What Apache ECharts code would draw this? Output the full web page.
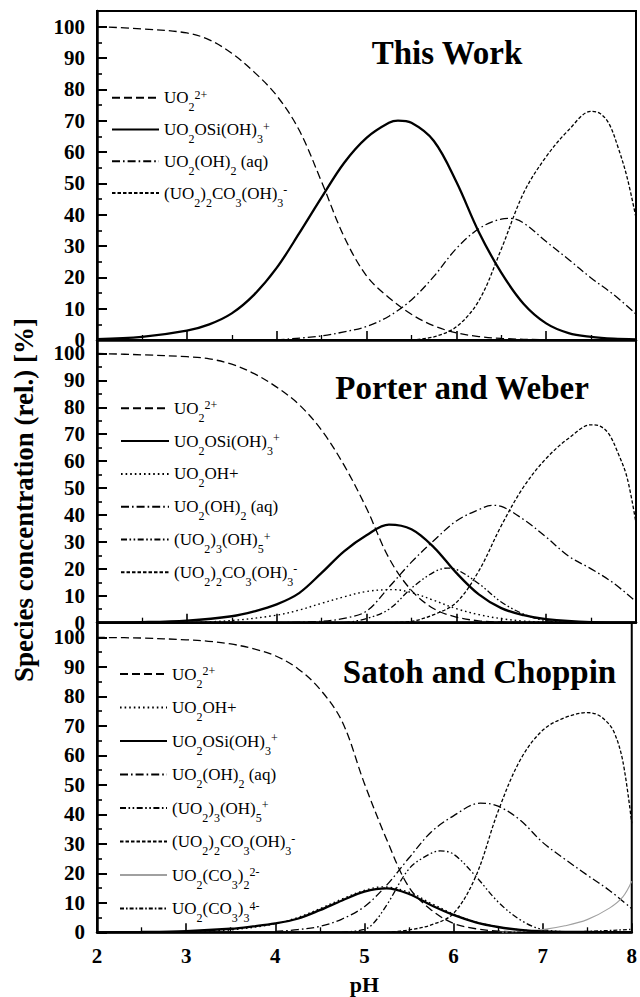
<!DOCTYPE html>
<html><head><meta charset="utf-8">
<script src="https://cdn.jsdelivr.net/npm/echarts@6/dist/echarts.min.js"></script>
<style>html,body{margin:0;padding:0;background:#fff}#c{width:640px;height:997px}</style>
</head><body><div id="c"></div><script>
// ---------- data (pH, % species) ----------
const phTicks = [2, 3, 4, 5, 6, 7, 8];
const yTickValues = [0, 10, 20, 30, 40, 50, 60, 70, 80, 90, 100];
const yMinorValues = [5, 15, 25, 35, 45, 55, 65, 75, 85, 95];
const panelTitles = ['This Work', 'Porter and Weber', 'Satoh and Choppin'];
const xName = 'pH';
const yName = 'Species concentration (rel.) [%]';

// Panel 1: This Work
const p1_UO2 = [[2,100],[2.5,99.3],[3,98],[3.25,95.8],[3.5,91.5],[3.75,85.5],[4,78],[4.25,67],[4.5,50.5],[4.75,33],[5,20.5],[5.25,13.5],[5.5,8.2],[5.75,4.5],[6,2.3],[6.25,1.1],[6.5,0.5],[7,0.1],[8,0]];
const p1_Si = [[2,0.3],[2.5,1],[3,3],[3.25,5],[3.5,8.5],[3.75,14.5],[4,23],[4.25,34],[4.5,45.5],[4.75,56.5],[5,64.5],[5.25,69.3],[5.35,70],[5.5,69.3],[5.75,63.5],[6,50.5],[6.25,34.5],[6.5,21.5],[6.75,11.5],[7,5.3],[7.25,2.2],[7.5,1],[7.75,0.4],[8,0.2]];
const p1_OH2 = [[4,0],[4.5,1.3],[4.75,2.6],[5,4.3],[5.25,7.6],[5.5,12.8],[5.75,20.3],[6,29.2],[6.25,35.5],[6.5,38.6],[6.6,38.8],[6.75,37.3],[7,31.4],[7.25,25.7],[7.5,19.8],[7.75,14.5],[8,8.3]];
const p1_Carb = [[5.5,0],[5.75,1],[6,4.2],[6.25,12.5],[6.5,29],[6.75,47],[7,58.5],[7.25,67],[7.5,73],[7.6,72.3],[7.7,69],[7.8,61.5],[7.9,52],[8,39]];

// Panel 2: Porter and Weber
const p2_UO2 = [[2,100],[2.5,99.5],[3,98.8],[3.25,98],[3.5,96],[3.75,92.5],[4,87.5],[4.25,81],[4.5,71.5],[4.75,58.5],[5,42.5],[5.25,24],[5.5,12],[5.75,5.2],[6,2.1],[6.25,0.7],[6.5,0.2],[7,0],[8,0]];
const p2_Si = [[2,0],[2.5,0.2],[3,0.8],[3.5,2.4],[3.75,4.2],[4,6.8],[4.25,11],[4.5,18.5],[4.75,26.5],[5,32.5],[5.25,36.4],[5.5,34.7],[5.75,28],[6,18.5],[6.25,10.5],[6.5,5.4],[6.75,2.8],[7,1.3],[7.5,0.2],[8,0]];
const p2_OH = [[3,0],[3.5,0.8],[4,2.8],[4.25,4.7],[4.5,7.2],[4.75,9.6],[5,11.6],[5.3,12.3],[5.5,11.2],[5.75,8.3],[6,5.2],[6.25,3],[6.5,1.5],[6.75,0.6],[7,0.2],[7.5,0],[8,0]];
const p2_OH2 = [[4,0],[4.5,0.5],[4.75,1.6],[5,4.3],[5.25,13.2],[5.5,22.5],[5.75,30.5],[6,37.8],[6.25,42],[6.4,43.6],[6.5,43.2],[6.75,38.3],[7,31.8],[7.25,24.7],[7.5,20],[7.75,14.7],[8,7.8]];
const p2_Tri = [[4.75,0],[5,1.5],[5.25,5],[5.5,12.8],[5.75,18.8],[5.9,20.3],[6,19.8],[6.25,14.5],[6.5,7.7],[6.75,3.2],[7,0.8],[7.5,0],[8,0]];
const p2_Carb = [[5.25,0],[5.5,0.5],[5.75,3],[6,7.5],[6.25,19.2],[6.5,36],[6.75,50.5],[7,61],[7.25,68.5],[7.5,73.5],[7.6,73],[7.7,70],[7.8,63],[7.9,54],[8,37]];

// Panel 3: Satoh and Choppin
const p3_UO2 = [[2,100],[2.5,99.8],[3,99.2],[3.25,98.7],[3.5,97.8],[3.75,96.2],[4,93.8],[4.25,89.5],[4.5,82.5],[4.75,71.5],[5,50.5],[5.25,31.5],[5.5,15.3],[5.75,7.6],[6,3],[6.25,1.2],[6.5,0.4],[7,0],[8,0]];
const p3_OH = [[3,0.2],[3.5,0.8],[4,2.9],[4.25,5],[4.5,8],[4.75,11.3],[5,14.2],[5.2,15.4],[5.5,13.6],[5.75,9.8],[6,6.2],[6.25,3.5],[6.5,1.8],[6.75,0.8],[7,0.3],[7.5,0],[8,0]];
const p3_Si = [[2,0],[2.5,0.1],[3,0.4],[3.5,1.2],[3.75,2],[4,3],[4.25,4.6],[4.5,7.5],[4.75,10.8],[5,13.8],[5.25,14.9],[5.5,13],[5.75,9.2],[6,5.9],[6.25,3.4],[6.5,1.8],[6.75,0.8],[7,0.3],[7.5,0.1],[8,0]];
const p3_OH2 = [[4,0.3],[4.25,0.9],[4.5,2],[4.75,4.5],[5,8.7],[5.25,16],[5.5,25.2],[5.75,34],[6,39.5],[6.3,43.8],[6.5,42.8],[6.75,38],[7,30.5],[7.25,24.8],[7.5,19.4],[7.75,14.2],[8,8]];
const p3_Tri = [[4.75,0],[5,1],[5.1,3],[5.25,9.2],[5.5,21.5],[5.7,26],[5.85,27.6],[6,26.5],[6.25,19],[6.5,10.3],[6.75,4.2],[7,1],[7.5,0],[8,0]];
const p3_Carb = [[5.25,0],[5.5,0.8],[5.75,2.5],[6,6.4],[6.25,19],[6.5,41],[6.75,58.5],[7,68.5],[7.25,72.8],[7.5,74.5],[7.6,74],[7.7,72],[7.8,68],[7.9,58],[8,37]];
const p3_DC = [[6.5,0],[6.75,0.3],[7,0.9],[7.25,2.2],[7.5,4.3],[7.75,8.2],[7.9,12],[8,17.3]];
const p3_TC = [[6.5,0],[7,0.1],[7.5,0.3],[8,1]];

// species labels (rich text) and line styles
const LBL = {
  uo2: 'UO{s|2}{p|2+}',
  si: 'UO{s|2}OSi(OH){s|3}{p|+}',
  oh: 'UO{s|2}OH+',
  oh2: 'UO{s|2}(OH){s|2} (aq)',
  tri: '(UO{s|2}){s|3}(OH){s|5}{p|+}',
  carb: '(UO{s|2}){s|2}CO{s|3}(OH){s|3}{p|-}',
  dc: 'UO{s|2}(CO{s|3}){s|2}{p|2-}',
  tc: 'UO{s|2}(CO{s|3}){s|3}{p|4-}'
};
const STY = {
  uo2: {type: [8, 4], width: 1.3, color: '#000'},
  si: {type: 'solid', width: 2.3, color: '#000'},
  oh: {type: [1.6, 3], width: 1.4, color: '#000'},
  oh2: {type: [8, 3, 1.6, 3], width: 1.3, color: '#000'},
  tri: {type: [6, 2.5, 1.6, 2.5, 1.6, 2.5], width: 1.3, color: '#000'},
  carb: {type: [3.5, 2], width: 1.3, color: '#000'},
  dc: {type: 'solid', width: 1.1, color: '#a0a0a0'},
  tc: {type: [4, 2, 1.6, 2], width: 1.3, color: '#000'}
};

const panels = [
  {keys: ['uo2', 'si', 'oh2', 'carb'], data: [p1_UO2, p1_Si, p1_OH2, p1_Carb]},
  {keys: ['uo2', 'si', 'oh', 'oh2', 'tri', 'carb'], data: [p2_UO2, p2_Si, p2_OH, p2_OH2, p2_Tri, p2_Carb]},
  {keys: ['uo2', 'oh', 'si', 'oh2', 'tri', 'carb', 'dc', 'tc'], data: [p3_UO2, p3_OH, p3_Si, p3_OH2, p3_Tri, p3_Carb, p3_DC, p3_TC]}
];

// ---------- layout ----------
const gridTops = [11, 340, 622.7];
const gridHeights = [329, 282.7, 309.6];
const legendPos = [
  {left: 111, top: 82.7, itemWidth: 47, itemGap: 1.3},
  {left: 120, top: 393.3, itemWidth: 48, itemGap: 2.3},
  {left: 119, top: 659, itemWidth: 47, itemGap: 3}
];
const titlePos = [[447, 52.5], [462, 388], [479.5, 672]];
const SERIF = '"Liberation Serif", "Times New Roman", serif';

const grids = [], xAxes = [], yAxes = [], series = [], legends = [], graphics = [];
panels.forEach((p, k) => {
  grids.push({left: 97, right: 4, top: gridTops[k], height: gridHeights[k], show: true,
    borderColor: '#000', borderWidth: 2, backgroundColor: 'transparent'});
  xAxes.push({gridIndex: k, type: 'value', min: 2, max: 8, interval: 1,
    axisLine: {show: true, onZero: false, lineStyle: {color: '#000', width: 2.5}},
    axisTick: {show: true, inside: true, length: 9, lineStyle: {color: '#000', width: 1.6}},
    minorTick: {show: true, splitNumber: 2, length: 5, lineStyle: {color: '#000', width: 1.3}},
    splitLine: {show: false}, minorSplitLine: {show: false},
    axisLabel: {show: k === 2, margin: 13, color: '#000', fontFamily: SERIF, fontWeight: 'bold', fontSize: 21,
      customValues: phTicks},
    name: k === 2 ? xName : '', nameLocation: 'middle', nameGap: 41,
    nameTextStyle: {color: '#000', fontFamily: SERIF, fontWeight: 'bold', fontSize: 22}
  });
  yAxes.push({gridIndex: k, type: 'value', min: 0, max: 105, interval: 10, position: 'left',
    axisLine: {show: true, lineStyle: {color: '#000', width: 2.5}},
    axisTick: {show: true, inside: true, length: 10, lineStyle: {color: '#000', width: 2}, customValues: yTickValues},
    axisLabel: {margin: 12, color: '#000', fontFamily: SERIF, fontWeight: 'bold', fontSize: 21, lineHeight: 14,
      customValues: yTickValues},
    splitLine: {show: false}
  });
  yAxes.push({gridIndex: k, type: 'value', min: 0, max: 105, interval: 10, position: 'left', offset: 0,
    axisLine: {show: false},
    axisTick: {show: true, inside: true, length: 5, lineStyle: {color: '#000', width: 1.6}, customValues: yMinorValues},
    axisLabel: {show: false}, splitLine: {show: false}
  });
  const names = [];
  p.keys.forEach((key, i) => {
    const nm = k + ':' + key;
    names.push(nm);
    const st = STY[key];
    series.push({type: 'line', name: nm, xAxisIndex: k, yAxisIndex: 2 * k, data: p.data[i],
      smooth: 0.35, symbol: 'none', silent: true, clip: true,
      itemStyle: {color: st.color},
      lineStyle: {color: st.color, width: st.width, type: st.type},
      z: key === 'si' ? 3 : 2
    });
  });
  legends.push({orient: 'vertical', left: legendPos[k].left, top: legendPos[k].top, padding: 0,
    itemWidth: legendPos[k].itemWidth, itemHeight: 14, itemGap: legendPos[k].itemGap,
    selectedMode: false, data: names,
    itemStyle: {opacity: 0},
    formatter: (n) => LBL[n.split(':')[1]],
    textStyle: {color: '#000', fontFamily: SERIF, fontSize: 17, lineHeight: 30,
      rich: {
        s: {color: '#000', fontFamily: SERIF, fontSize: 12, padding: [19, 0, 0, 0]},
        p: {color: '#000', fontFamily: SERIF, fontSize: 12, padding: [0, 0, 6, 0]}
      }}
  });
  graphics.push({type: 'text', x: titlePos[k][0], y: titlePos[k][1], silent: true,
    style: {text: panelTitles[k], font: 'bold 33px ' + SERIF, fill: '#000',
      align: 'center', verticalAlign: 'middle', textAlign: 'center', textVerticalAlign: 'middle'}});
});
graphics.push({type: 'text', x: 24, y: 500, rotation: Math.PI / 2, silent: true,
  style: {text: yName, font: 'bold 27px ' + SERIF, fill: '#000',
    align: 'center', verticalAlign: 'middle', textAlign: 'center', textVerticalAlign: 'middle'}});

const chart = echarts.init(document.getElementById('c'), null, {renderer: 'svg'});
chart.setOption({
  animation: false,
  backgroundColor: '#fff',
  grid: grids, xAxis: xAxes, yAxis: yAxes, series: series, legend: legends,
  graphic: graphics
});
</script></body></html>
